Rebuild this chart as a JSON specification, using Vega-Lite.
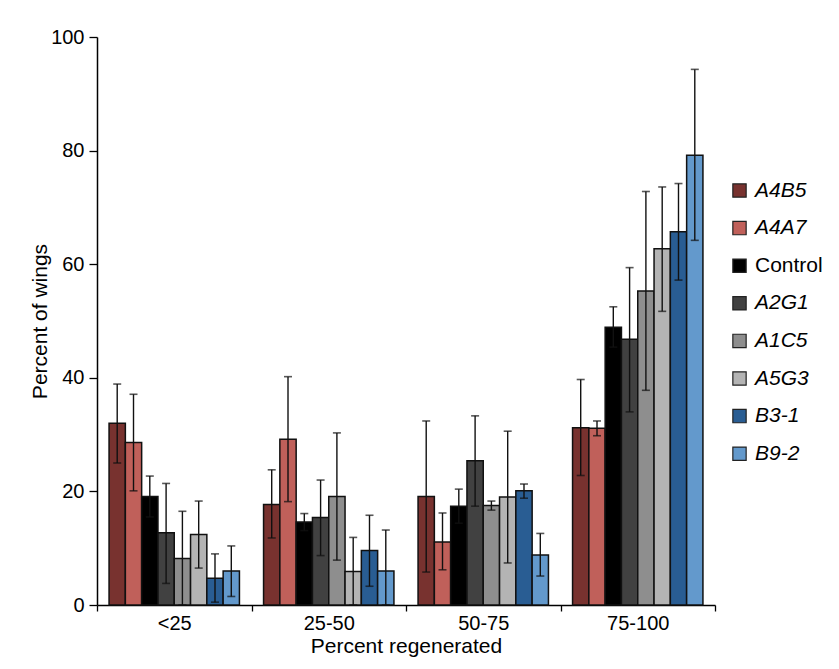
{
  "$schema": "https://vega.github.io/schema/vega-lite/v6.json",
  "width": 618,
  "height": 568,
  "autosize": "none",
  "padding": {"left": 97, "top": 37, "right": 124, "bottom": 64},
  "background": "white",
  "config": {
    "view": {"stroke": null},
    "font": "Liberation Sans",
    "axis": {
      "domainColor": "#000",
      "domainWidth": 1.5,
      "tickColor": "#000",
      "tickWidth": 1.3,
      "labelColor": "#000",
      "titleColor": "#000",
      "labelFont": "Liberation Sans",
      "titleFont": "Liberation Sans",
      "titleFontWeight": "normal",
      "grid": false
    }
  },
  "data": {
    "values": [
      {"group": "<25", "strain": "A4B5", "mean": 32.0, "lo": 25.0, "hi": 38.9},
      {"group": "<25", "strain": "A4A7", "mean": 28.6, "lo": 20.1, "hi": 37.1},
      {"group": "<25", "strain": "Control", "mean": 19.1, "lo": 15.5, "hi": 22.7},
      {"group": "<25", "strain": "A2G1", "mean": 12.7, "lo": 3.8, "hi": 21.4},
      {"group": "<25", "strain": "A1C5", "mean": 8.2, "lo": 0.0, "hi": 16.5},
      {"group": "<25", "strain": "A5G3", "mean": 12.4, "lo": 6.5, "hi": 18.3},
      {"group": "<25", "strain": "B3-1", "mean": 4.7, "lo": 0.5, "hi": 9.0},
      {"group": "<25", "strain": "B9-2", "mean": 6.0, "lo": 1.5, "hi": 10.4},
      {"group": "25-50", "strain": "A4B5", "mean": 17.7, "lo": 11.8, "hi": 23.8},
      {"group": "25-50", "strain": "A4A7", "mean": 29.2, "lo": 18.2, "hi": 40.2},
      {"group": "25-50", "strain": "Control", "mean": 14.6, "lo": 13.1, "hi": 16.1},
      {"group": "25-50", "strain": "A2G1", "mean": 15.4, "lo": 8.7, "hi": 22.0},
      {"group": "25-50", "strain": "A1C5", "mean": 19.1, "lo": 7.9, "hi": 30.3},
      {"group": "25-50", "strain": "A5G3", "mean": 5.9, "lo": 0.0, "hi": 11.9},
      {"group": "25-50", "strain": "B3-1", "mean": 9.6, "lo": 3.3, "hi": 15.8},
      {"group": "25-50", "strain": "B9-2", "mean": 6.0, "lo": 0.0, "hi": 13.2},
      {"group": "50-75", "strain": "A4B5", "mean": 19.1, "lo": 5.8, "hi": 32.4},
      {"group": "50-75", "strain": "A4A7", "mean": 11.1, "lo": 6.2, "hi": 16.2},
      {"group": "50-75", "strain": "Control", "mean": 17.4, "lo": 14.4, "hi": 20.4},
      {"group": "50-75", "strain": "A2G1", "mean": 25.4, "lo": 17.4, "hi": 33.3},
      {"group": "50-75", "strain": "A1C5", "mean": 17.5, "lo": 16.7, "hi": 18.3},
      {"group": "50-75", "strain": "A5G3", "mean": 19.0, "lo": 7.4, "hi": 30.6},
      {"group": "50-75", "strain": "B3-1", "mean": 20.1, "lo": 18.8, "hi": 21.3},
      {"group": "50-75", "strain": "B9-2", "mean": 8.8, "lo": 5.1, "hi": 12.6},
      {"group": "75-100", "strain": "A4B5", "mean": 31.2, "lo": 22.8, "hi": 39.7},
      {"group": "75-100", "strain": "A4A7", "mean": 31.1, "lo": 29.8, "hi": 32.4},
      {"group": "75-100", "strain": "Control", "mean": 48.9, "lo": 45.4, "hi": 52.5},
      {"group": "75-100", "strain": "A2G1", "mean": 46.8, "lo": 34.0, "hi": 59.4},
      {"group": "75-100", "strain": "A1C5", "mean": 55.3, "lo": 37.8, "hi": 72.8},
      {"group": "75-100", "strain": "A5G3", "mean": 62.7, "lo": 51.7, "hi": 73.6},
      {"group": "75-100", "strain": "B3-1", "mean": 65.7, "lo": 57.2, "hi": 74.2},
      {"group": "75-100", "strain": "B9-2", "mean": 79.2, "lo": 64.2, "hi": 94.3}
    ]
  },
  "encoding": {
    "x": {
      "field": "group",
      "type": "nominal",
      "sort": ["<25", "25-50", "50-75", "75-100"],
      "scale": {"paddingInner": 0, "paddingOuter": 0},
      "axis": {
        "title": "Percent regenerated",
        "labelAngle": 0,
        "labelFontSize": 20,
        "titleFontSize": 21,
        "tickBand": "extent",
        "tickSize": 6,
        "labelPadding": 2,
        "titlePadding": 2
      }
    },
    "xOffset": {
      "field": "strain",
      "type": "nominal",
      "sort": ["A4B5", "A4A7", "Control", "A2G1", "A1C5", "A5G3", "B3-1", "B9-2"],
      "scale": {"paddingInner": 0, "paddingOuter": 0.74}
    }
  },
  "layer": [
    {
      "mark": {"type": "bar", "stroke": "#111", "strokeWidth": 1.5},
      "encoding": {
        "y": {
          "field": "mean",
          "type": "quantitative",
          "scale": {"domain": [0, 100]},
          "axis": {
            "title": "Percent of wings",
            "values": [0, 20, 40, 60, 80, 100],
            "labelFontSize": 20,
            "titleFontSize": 21,
            "tickSize": 8,
            "labelPadding": 5,
            "titlePadding": 0
          }
        },
        "color": {
          "field": "strain",
          "type": "nominal",
          "sort": ["A4B5", "A4A7", "Control", "A2G1", "A1C5", "A5G3", "B3-1", "B9-2"],
          "scale": {
            "domain": ["A4B5", "A4A7", "Control", "A2G1", "A1C5", "A5G3", "B3-1", "B9-2"],
            "range": ["#78322f", "#c0605a", "#000000", "#414141", "#8e8e8e", "#b4b4b4", "#295d93", "#6399cc"]
          },
          "legend": {
            "title": null,
            "orient": "none",
            "legendX": 632,
            "legendY": 143,
            "padding": 0,
            "symbolType": "square",
            "symbolSize": 177,
            "symbolStrokeColor": "#222",
            "symbolStrokeWidth": 1.2,
            "labelFontSize": 21,
            "labelColor": "#000",
            "labelOffset": 5,
            "rowPadding": 15.6,
            "encode": {
              "labels": {
                "update": {
                  "fontStyle": {"signal": "datum.label === 'Control' ? 'normal' : 'italic'"}
                }
              }
            }
          }
        }
      }
    },
    {
      "mark": {"type": "rule", "color": "#111", "strokeWidth": 1.4},
      "encoding": {
        "y": {"field": "lo", "type": "quantitative"},
        "y2": {"field": "hi"}
      }
    },
    {
      "mark": {"type": "tick", "color": "#111", "thickness": 1.6, "size": 8},
      "encoding": {"y": {"field": "lo", "type": "quantitative"}}
    },
    {
      "mark": {"type": "tick", "color": "#111", "thickness": 1.6, "size": 8},
      "encoding": {"y": {"field": "hi", "type": "quantitative"}}
    }
  ]
}
